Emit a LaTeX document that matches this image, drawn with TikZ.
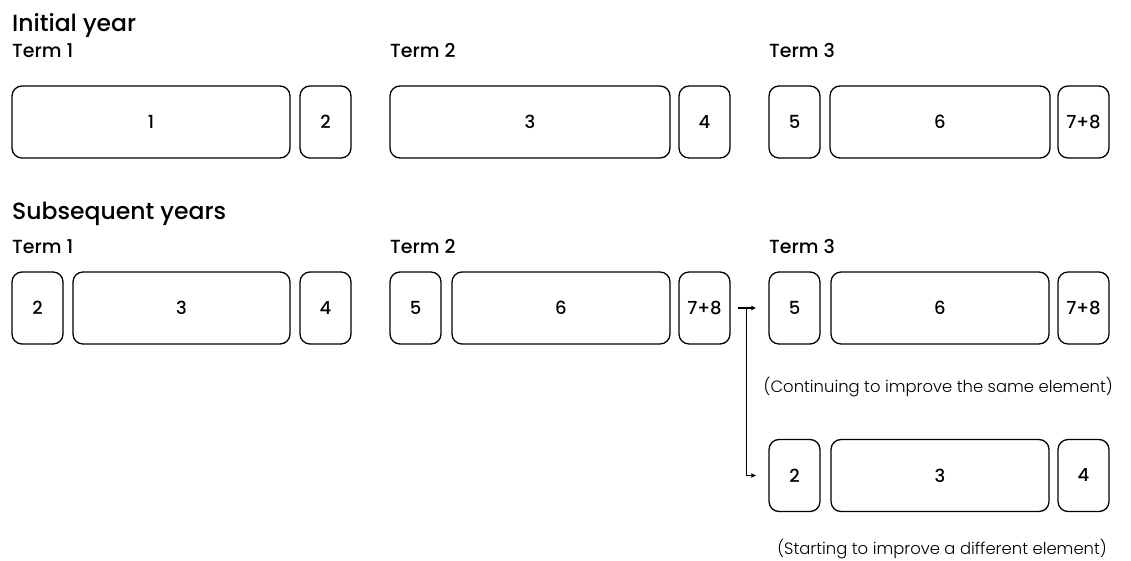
\documentclass[tikz,border=0pt]{standalone}
\usepackage{fontspec}
\setmainfont{Poppins}
\newfontfamily\headfont{Poppins Medium}
\newfontfamily\notefont{Poppins Light}
\usetikzlibrary{arrows.meta}

\begin{document}
\begin{tikzpicture}[x=1pt,y=-1pt]
    % Styles
    \tikzstyle{term box} = [draw, line width=1.3pt, rounded corners=10pt, minimum height=72pt, inner sep=0pt, font=\headfont\fontsize{18}{21}\selectfont]
    \tikzstyle{year title} = [anchor=base west, inner sep=0pt, font=\headfont\fontsize{23.5}{27}\selectfont]
    \tikzstyle{term title} = [anchor=base west, inner sep=0pt, font=\headfont\fontsize{19}{23}\selectfont]
    \tikzstyle{note text} = [anchor=base east, inner sep=0pt, font=\notefont\fontsize{16.4}{20}\selectfont]
    \tikzstyle{flow arrow} = [line width=1.2pt, -{Latex[length=5pt,width=5pt]}]

    \useasboundingbox (0,0) rectangle (1131,561);

    %%% Initial year
    \node[year title] (initial year) at (12,32) {Initial year};
    \foreach \name/\x/\n in {a term1/12/1, a term2/390/2, a term3/769/3}
        \node[term title] (\name) at (\x,58) {Term \n};

    \foreach \name/\x/\w/\txt in {a1/151/278/1, a2/325.5/51/2, a3/530/280/3, a4/704.5/51/4,
                                  a5/794.5/51/5, a6/940/220/6, a78/1083.5/51/7+8}
    {
        \node[term box, minimum width=\w pt] (\name) at (\x,122) {\txt};
    }
    %%%

    %%% Subsequent years
    \node[year title] (subsequent years) at (12,219) {Subsequent years};
    \foreach \name/\x/\n in {b term1/12/1, b term2/390/2, b term3/769/3}
        \node[term title] (\name) at (\x,253) {Term \n};

    \foreach \name/\x/\w/\txt in {b2/37.5/51/2, b3/181.5/217/3, b4/325.5/51/4,
                                  b5/415.5/51/5, b6/561/218/6, b78/704.5/51/7+8,
                                  c5/794.5/51/5, c6/940/218/6, c78/1083.5/51/7+8}
    {
        \node[term box, minimum width=\w pt] (\name) at (\x,308) {\txt};
    }

    % Different element
    \foreach \name/\x/\w/\txt in {d2/794.5/51/2, d3/940/218/3, d4/1083.5/51/4}
    {
        \node[term box, minimum width=\w pt] (\name) at (\x,475.5) {\txt};
    }

    \node[note text] (same note) at (1113,392) {(Continuing to improve the same element)};
    \node[note text] (different note) at (1107,554) {(Starting to improve a different element)};
    %%%

    %%% Arrows
    \coordinate (fork start) at ([xshift=7pt]b78.east);
    \coordinate (fork) at ([xshift=16pt]b78.east);
    \draw[flow arrow] (fork start) -- ([xshift=-12pt]c5.west);
    \draw[flow arrow] (fork) |- ([xshift=-12pt]d2.west);
    %%%
\end{tikzpicture}
\end{document}
